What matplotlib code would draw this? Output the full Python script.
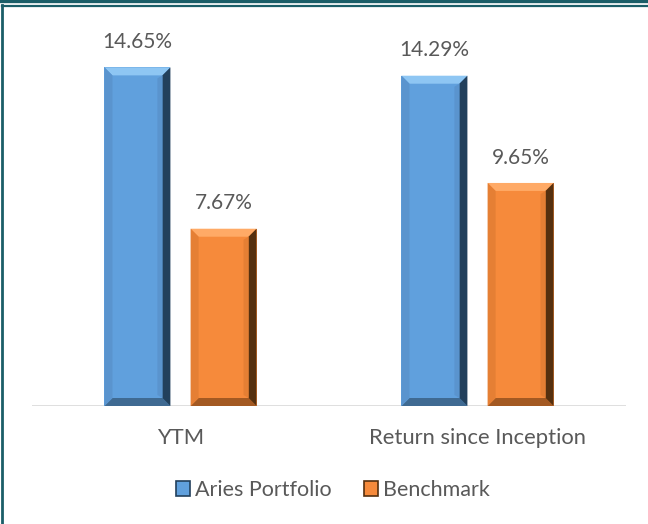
"""
Aries Portfolio vs Benchmark - YTM and return since inception
"""

import numpy as np
import matplotlib
matplotlib.use('Agg')
import matplotlib.pyplot as plt
from matplotlib.patches import Polygon, Rectangle
from matplotlib.lines import Line2D

plt.rcParams['font.family'] = ['Lato', 'DejaVu Sans']

# data
categories = ['YTM', 'Return since Inception']
series_names = ['Aries Portfolio', 'Benchmark']
portfolio = [14.65, 14.29]
benchmark = [7.67, 9.65]

# face / top / left / right / bottom shades for the bevel look
shades = {
    'Aries Portfolio': ['#60A0DD', '#8EC6F3', '#5A94CE', '#22405C', '#3F6A92'],
    'Benchmark': ['#F68A3B', '#FFAA66', '#E57F34', '#55300F', '#A35922'],
}
text_color = '#595959'

fig = plt.figure(figsize=(6.48, 5.24), dpi=100)
ax = fig.add_axes([32 / 648, 1 - 406 / 524, 594 / 648, 386 / 524])

x = np.arange(len(categories))
width = 0.222
offset = 0.145

ax.set_xlim(-0.5, 1.5)
ax.set_ylim(0, 16.7)


def bevel_bar(xc, h, cols, bev=8):
    """draw one bar with a bevelled edge (bevel given in pixels)"""
    face, top, left, right, bottom = cols
    (x0, y0) = ax.transData.transform((xc - width / 2, 0))
    (x1, y1) = ax.transData.transform((xc + width / 2, h))
    inv = ax.transData.inverted()

    def poly(pts, c, z=3):
        ax.add_patch(Polygon(inv.transform(pts), closed=True, facecolor=c,
                             edgecolor='none', zorder=z))

    poly([(x0, y0), (x1, y0), (x1, y1), (x0, y1)], face, 2)
    poly([(x0, y1), (x1, y1), (x1 - bev, y1 - bev), (x0 + bev, y1 - bev)], top)
    poly([(x0, y0), (x1, y0), (x1 - bev, y0 + bev), (x0 + bev, y0 + bev)], bottom)
    poly([(x0, y0), (x0 + bev, y0 + bev), (x0 + bev, y1 - bev), (x0, y1)], left)
    poly([(x1, y0), (x1 - bev, y0 + bev), (x1 - bev, y1 - bev), (x1, y1)], right)
    # soften the right edge a little
    poly([(x1 - bev, y0 + bev), (x1 - bev - 5, y0 + bev + 3),
          (x1 - bev - 5, y1 - bev - 3), (x1 - bev, y1 - bev)], left, 3)


for i in range(len(categories)):
    for val, name, sign in [(portfolio[i], 'Aries Portfolio', -1),
                            (benchmark[i], 'Benchmark', 1)]:
        xc = x[i] + sign * offset
        bevel_bar(xc, val, shades[name])
        ax.annotate(f'{val:.2f}%', (xc, val), xytext=(0, 11),
                    textcoords='offset points', ha='center', va='bottom',
                    fontsize=15, color=text_color)

ax.axhline(0, color='#D9D9D9', lw=1.2, zorder=1)
for s in ax.spines.values():
    s.set_visible(False)
ax.set_yticks([])
ax.set_xticks(x)
ax.set_xticklabels(categories, fontsize=15.8, color=text_color)
ax.tick_params(axis='x', length=0, pad=16)

# legend
handles = [Rectangle((0, 0), 1, 1, facecolor=shades[n][0], edgecolor=shades[n][3], lw=1.2)
           for n in series_names]
fig.legend(handles, series_names, loc='center', bbox_to_anchor=(333 / 648, 1 - 490 / 524),
           ncol=2, frameon=False, fontsize=15.5, handlelength=0.65, handleheight=0.65,
           handletextpad=0.25, columnspacing=1.5, labelcolor=text_color)

# frame lines (top double line and left edge)
teal = '#1B5E68'
fig.add_artist(Line2D([0, 1], [1 - 1.2 / 524] * 2, color=teal, lw=2.4, transform=fig.transFigure))
fig.add_artist(Line2D([2 / 648, 1], [1 - 5.5 / 524] * 2, color=teal, lw=1.6, transform=fig.transFigure))
fig.add_artist(Line2D([2 / 648] * 2, [0, 1 - 5 / 524], color=teal, lw=2.0, transform=fig.transFigure))

plt.savefig('out.png', dpi=100)
